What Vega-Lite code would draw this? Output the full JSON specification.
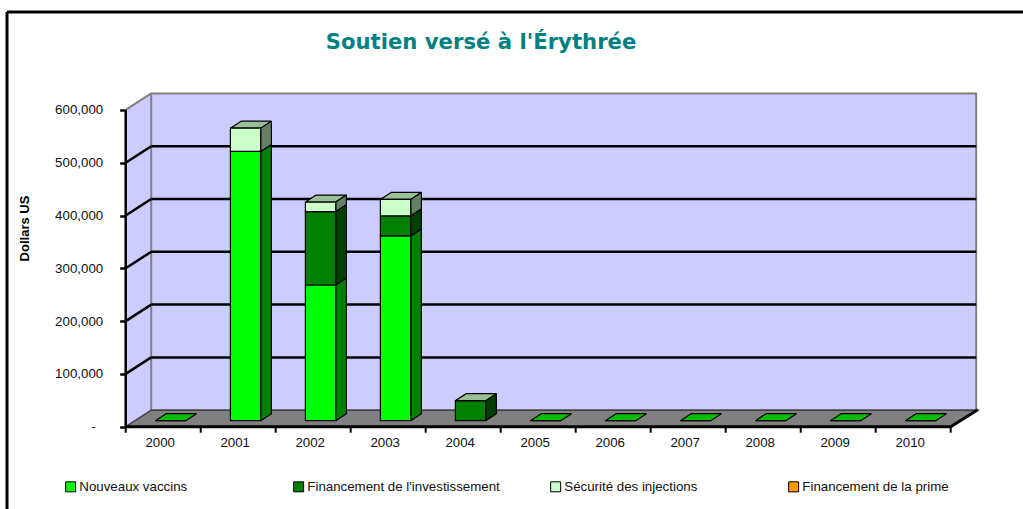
{
"$schema":"https://vega.github.io/schema/vega-lite/v6.json",
"width":1016,"height":497,
"autosize":{"type":"none"},
"padding":{"left":7,"top":12,"right":0,"bottom":0},
"background":"white",
"config":{"view":{"stroke":null},"font":"Liberation Sans"},
"title":{"text":"Soutien versé à l'Érythrée","font":"DejaVu Sans","fontWeight":"bold","fontSize":21.2,"color":"#008080","anchor":"middle","frame":"group","dx":-34,"offset":-60,"baseline":"alphabetic"},
"data":{"values":[{}]},
"datasets":{
"bars":[
{"year":2000,"series":"Nouveaux vaccins","value":0},
{"year":2001,"series":"Nouveaux vaccins","value":510000},
{"year":2001,"series":"Sécurité des injections","value":44000},
{"year":2002,"series":"Nouveaux vaccins","value":257000},
{"year":2002,"series":"Financement de l'investissement","value":139000},
{"year":2002,"series":"Sécurité des injections","value":18000},
{"year":2003,"series":"Nouveaux vaccins","value":350000},
{"year":2003,"series":"Financement de l'investissement","value":38000},
{"year":2003,"series":"Sécurité des injections","value":31000},
{"year":2004,"series":"Financement de l'investissement","value":38000},
{"year":2004,"series":"Sécurité des injections","value":0},
{"year":2005,"series":"Nouveaux vaccins","value":0},
{"year":2006,"series":"Nouveaux vaccins","value":0},
{"year":2007,"series":"Nouveaux vaccins","value":0},
{"year":2008,"series":"Nouveaux vaccins","value":0},
{"year":2009,"series":"Nouveaux vaccins","value":0},
{"year":2010,"series":"Nouveaux vaccins","value":0}
],
"ticks":[{"v":100000},{"v":200000},{"v":300000},{"v":400000},{"v":500000}],
"bounds":[{"b":1999.5},{"b":2000.5},{"b":2001.5},{"b":2002.5},{"b":2003.5},{"b":2004.5},{"b":2005.5},{"b":2006.5},{"b":2007.5},{"b":2008.5},{"b":2009.5},{"b":2010.5}],
"depth":[{"t":0},{"t":1}]
},
"layer":[
{"data":{"name":"depth"},
 "transform":[{"calculate":"1999.5+datum.t*0.34","as":"x"},{"calculate":"datum.t*31250","as":"lo"},{"calculate":"600000+datum.t*31250","as":"hi"}],
 "mark":{"type":"area","orient":"vertical","fill":"#CCCCFF","stroke":null},
 "encoding":{
  "x":{"field":"x","type":"quantitative","stack":null,"scale":{"domain":[1997.91733,2011.464],"nice":false,"zero":false},
   "axis":{"values":[2000,2001,2002,2003,2004,2005,2006,2007,2008,2009,2010],"format":"d","title":null,"domain":false,"ticks":false,"grid":false,"offset":-82.3,"labelFont":"Liberation Sans","labelFontSize":13.3,"labelColor":"#111","labelPadding":9,"labelOffset":-3.5,"labelFlush":false,"labelOverlap":false}},
  "y":{"field":"lo","type":"quantitative","stack":null,"scale":{"domain":[-155871,785417],"nice":false,"zero":false},
   "axis":{"values":[0,100000,200000,300000,400000,500000,600000],"labelExpr":"datum.value==0?'-\u00a0\u00a0\u200b':format(datum.value,',')","title":"Dollars US","titleFont":"Liberation Sans","titleFontSize":13,"titleFontWeight":"bold","titleColor":"#000","titleX":-94,"titleY":216,"domain":false,"grid":false,"offset":-118.7,"tickColor":"black","tickWidth":2.5,"tickSize":6,"labelFont":"Liberation Sans","labelFontSize":13.3,"labelColor":"#111","labelPadding":17,"labelOverlap":false}},
  "y2":{"field":"hi"}
 }},
{"mark":{"type":"rect","fill":"#CCCCFF","stroke":"#808080","strokeWidth":2},
 "encoding":{"x":{"datum":1999.84,"type":"quantitative"},"x2":{"datum":2010.84},"y":{"datum":31250,"type":"quantitative"},"y2":{"datum":631250}}},
{"data":{"name":"ticks"},
 "transform":[{"calculate":"datum.v+31250","as":"back"}],
 "mark":{"type":"rule","stroke":"black","strokeWidth":2.5},
 "encoding":{"x":{"datum":1999.84,"type":"quantitative"},"x2":{"datum":2010.84},"y":{"field":"back","type":"quantitative"}}},
{"data":{"name":"ticks"},
 "transform":[{"calculate":"datum.v+31250","as":"back"}],
 "mark":{"type":"rule","stroke":"black","strokeWidth":2.5},
 "encoding":{"x":{"datum":1999.5,"type":"quantitative"},"x2":{"datum":1999.84},"y":{"field":"v","type":"quantitative"},"y2":{"field":"back"}}},
{"mark":{"type":"rule","stroke":"#808080","strokeWidth":2},
 "encoding":{"x":{"datum":1999.5,"type":"quantitative"},"x2":{"datum":1999.84},"y":{"datum":600000,"type":"quantitative"},"y2":{"datum":631250}}},
{"data":{"name":"depth"},
 "transform":[{"calculate":"1999.5+datum.t*0.34","as":"x"},{"calculate":"2010.5+datum.t*0.36","as":"x2"},{"calculate":"datum.t*31250","as":"y"}],
 "mark":{"type":"area","orient":"horizontal","fill":"#808080","stroke":"#404040","strokeWidth":1.5},
 "encoding":{"y":{"field":"y","type":"quantitative","stack":null},"x":{"field":"x","type":"quantitative","stack":null},"x2":{"field":"x2"}}},
{"mark":{"type":"rule","stroke":"black","strokeWidth":3},
 "encoding":{"x":{"datum":2010.5,"type":"quantitative"},"x2":{"datum":2010.86},"y":{"datum":0,"type":"quantitative"},"y2":{"datum":32000}}},
{"mark":{"type":"rule","stroke":"black","strokeWidth":3},
 "encoding":{"x":{"datum":1999.5,"type":"quantitative"},"x2":{"datum":2010.5},"y":{"datum":0,"type":"quantitative"}}},
{"mark":{"type":"rule","stroke":"black","strokeWidth":2.5},
 "encoding":{"x":{"datum":1999.5,"type":"quantitative"},"y":{"datum":0,"type":"quantitative"},"y2":{"datum":600000}}},
{"data":{"name":"bounds"},
 "mark":{"type":"rule","stroke":"black","strokeWidth":2},
 "encoding":{"x":{"field":"b","type":"quantitative"},"y":{"datum":0,"type":"quantitative"},"y2":{"datum":-11400}}},
{"data":{"name":"bars"},
 "transform":[
  {"calculate":"indexof(['Nouveaux vaccins','Financement de l\\'investissement','Sécurité des injections','Financement de la prime'],datum.series)","as":"ord"},
  {"stack":"value","groupby":["year"],"sort":[{"field":"ord","order":"ascending"}],"as":["s0","s1"]},
  {"calculate":"[0,1]","as":"t"},{"flatten":["t"]},
  {"calculate":"datum.year-0.104+datum.t*0.1427","as":"xa"},
  {"calculate":"datum.year+0.3+datum.t*0.1427","as":"xb"},
  {"calculate":"datum.s1+(6+7*datum.t)*1894","as":"yt"},
  {"calculate":"datum.year+'-'+datum.ord","as":"id"}],
 "mark":{"type":"area","orient":"horizontal","stroke":"black","strokeWidth":1.2,"strokeJoin":"bevel"},
 "encoding":{"y":{"field":"yt","type":"quantitative","stack":null},"x":{"field":"xa","type":"quantitative","stack":null},"x2":{"field":"xb"},"detail":{"field":"id"},
  "fill":{"field":"series","type":"nominal","legend":null,"scale":{"domain":["Nouveaux vaccins","Financement de l'investissement","Sécurité des injections","Financement de la prime"],"range":["#00BF00","#006000","#99BF99","#BF7300"]}}}},
{"data":{"name":"bars"},
 "transform":[
  {"calculate":"indexof(['Nouveaux vaccins','Financement de l\\'investissement','Sécurité des injections','Financement de la prime'],datum.series)","as":"ord"},
  {"stack":"value","groupby":["year"],"sort":[{"field":"ord","order":"ascending"}],"as":["s0","s1"]},
  {"filter":"datum.value>0"},
  {"calculate":"[0,1]","as":"t"},{"flatten":["t"]},
  {"calculate":"datum.year+0.3+datum.t*0.1427","as":"xs"},
  {"calculate":"datum.s0+(6+7*datum.t)*1894","as":"lo"},
  {"calculate":"datum.s1+(6+7*datum.t)*1894","as":"hi"},
  {"calculate":"datum.year+'-'+datum.ord","as":"id"}],
 "mark":{"type":"area","orient":"vertical","stroke":"black","strokeWidth":1.2,"strokeJoin":"bevel"},
 "encoding":{"x":{"field":"xs","type":"quantitative","stack":null},"y":{"field":"lo","type":"quantitative","stack":null},"y2":{"field":"hi"},"detail":{"field":"id"},
  "fill":{"field":"series","type":"nominal","legend":null,"scale":{"domain":["Nouveaux vaccins","Financement de l'investissement","Sécurité des injections","Financement de la prime"],"range":["#008000","#004000","#668066","#804C00"]}}}},
{"data":{"name":"bars"},
 "transform":[
  {"calculate":"indexof(['Nouveaux vaccins','Financement de l\\'investissement','Sécurité des injections','Financement de la prime'],datum.series)","as":"ord"},
  {"stack":"value","groupby":["year"],"sort":[{"field":"ord","order":"ascending"}],"as":["s0","s1"]},
  {"calculate":"datum.year-0.104","as":"x0"},{"calculate":"datum.year+0.3","as":"x1"},
  {"calculate":"datum.s0+6*1894","as":"lo"},{"calculate":"datum.s1+6*1894","as":"hi"}],
 "mark":{"type":"rect","stroke":"black","strokeWidth":1.2},
 "encoding":{"x":{"field":"x0","type":"quantitative"},"x2":{"field":"x1"},"y":{"field":"lo","type":"quantitative"},"y2":{"field":"hi"},
  "color":{"field":"series","type":"nominal","scale":{"domain":["Nouveaux vaccins","Financement de l'investissement","Sécurité des injections","Financement de la prime"],"range":["#00FF00","#008000","#CCFFCC","#FF9900"]},
   "legend":{"title":null,"orient":"none","legendX":57,"legendY":468,"direction":"horizontal","columns":4,"gridAlign":"each","columnPadding":48,"padding":0,"symbolType":"square","symbolSize":100,"symbolStrokeColor":"black","symbolStrokeWidth":1,"labelFont":"Liberation Sans","labelFontSize":13.3,"labelColor":"#111","labelOffset":2,"labelLimit":400,
    "labelExpr":"datum.value+(datum.value=='Nouveaux vaccins'?'\u00a0\u00a0\u00a0\u00a0\u00a0\u00a0\u00a0\u00a0\u00a0\u00a0\u00a0\u00a0\u00a0\u00a0\u00a0\u200b':datum.value=='Sécurité des injections'?'\u00a0\u00a0\u00a0\u00a0\u00a0\u00a0\u00a0\u00a0\u00a0\u00a0\u00a0\u200b':'')"}}}},
{"mark":{"type":"rule","stroke":"black","strokeWidth":3},
 "encoding":{"y":{"datum":785417,"type":"quantitative"}}},
{"mark":{"type":"rule","stroke":"black","strokeWidth":3},
 "encoding":{"x":{"datum":1997.91733,"type":"quantitative"}}}
],
"resolve":{"scale":{"fill":"independent"}}
}
